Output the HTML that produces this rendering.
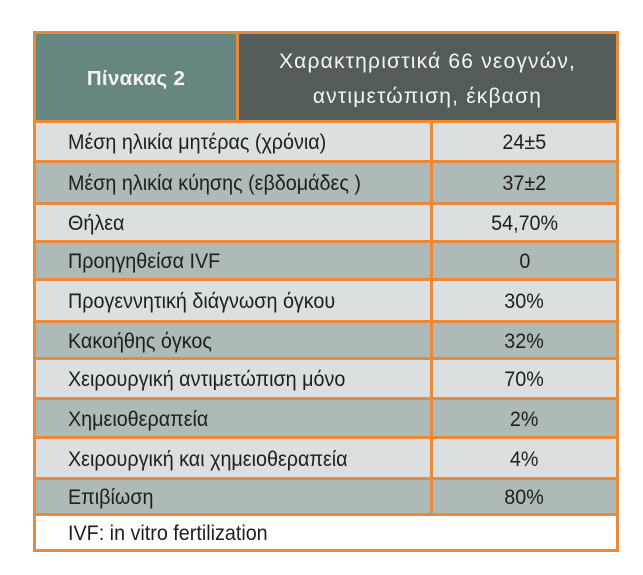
<!DOCTYPE html>
<html>
<head>
<meta charset="utf-8">
<style>
  html,body{margin:0;padding:0;background:#fff;}
  body{width:643px;height:575px;position:relative;overflow:hidden;font-family:"Liberation Sans","DejaVu Sans",sans-serif;}
  .frame{position:absolute;left:33px;top:31px;width:586px;height:521px;background:#e98a3a;}
  .c{position:absolute;box-sizing:border-box;display:flex;align-items:center;color:#1e1e1e;font-size:21px;white-space:nowrap;}
  .c span{display:inline-block;transform:scaleX(0.94);transform-origin:left center;}
  .r span{transform-origin:center center;}
  .l{left:36px;width:394px;padding-left:32px;padding-top:3px;}
  .r{left:433px;width:183px;justify-content:center;padding-top:3px;}
  .lt{background:#dcdfe0;}
  .dk{background:#adbab8;}
  .hl{left:36px;top:34px;width:200px;height:86px;background:#688681;color:#f4f4f4;font-weight:bold;font-size:20.5px;justify-content:center;padding-top:3px;letter-spacing:0.3px;}
  .hr{left:239px;top:34px;width:377px;height:86px;background:#545c59;color:#f4f4f4;font-size:21px;justify-content:center;text-align:center;line-height:35px;letter-spacing:1.2px;white-space:normal;padding-top:4px;}
  .ft{left:36px;width:580px;background:#fff;padding-left:32px;padding-top:3px;}
</style>
</head>
<body>
<div class="frame"></div>

<div class="c hl">Πίνακας 2</div>
<div class="c hr"><div>Χαρακτηριστικά 66 νεογνών,<br>αντιμετώπιση, έκβαση</div></div>

<div class="c l lt" style="top:123px;height:37px;"><span>Μέση ηλικία μητέρας (χρόνια)</span></div>
<div class="c r lt" style="top:123px;height:37px;"><span>24±5</span></div>

<div class="c l dk" style="top:163px;height:39px;"><span>Μέση ηλικία κύησης (εβδομάδες )</span></div>
<div class="c r dk" style="top:163px;height:39px;"><span>37±2</span></div>

<div class="c l lt" style="top:205px;height:35px;"><span>Θήλεα</span></div>
<div class="c r lt" style="top:205px;height:35px;"><span>54,70%</span></div>

<div class="c l dk" style="top:243px;height:35px;"><span>Προηγηθείσα IVF</span></div>
<div class="c r dk" style="top:243px;height:35px;"><span>0</span></div>

<div class="c l lt" style="top:281px;height:39px;"><span>Προγεννητική διάγνωση όγκου</span></div>
<div class="c r lt" style="top:281px;height:39px;"><span>30%</span></div>

<div class="c l dk" style="top:323px;height:34px;"><span>Κακοήθης όγκος</span></div>
<div class="c r dk" style="top:323px;height:34px;"><span>32%</span></div>

<div class="c l lt" style="top:360px;height:37px;"><span>Χειρουργική αντιμετώπιση μόνο</span></div>
<div class="c r lt" style="top:360px;height:37px;"><span>70%</span></div>

<div class="c l dk" style="top:400px;height:36px;"><span>Χημειοθεραπεία</span></div>
<div class="c r dk" style="top:400px;height:36px;"><span>2%</span></div>

<div class="c l lt" style="top:439px;height:38px;"><span>Χειρουργική και χημειοθεραπεία</span></div>
<div class="c r lt" style="top:439px;height:38px;"><span>4%</span></div>

<div class="c l dk" style="top:480px;height:33px;"><span>Επιβίωση</span></div>
<div class="c r dk" style="top:480px;height:33px;"><span>80%</span></div>

<div class="c ft" style="top:516px;height:33px;"><span>IVF: in vitro fertilization</span></div>
</body>
</html>
